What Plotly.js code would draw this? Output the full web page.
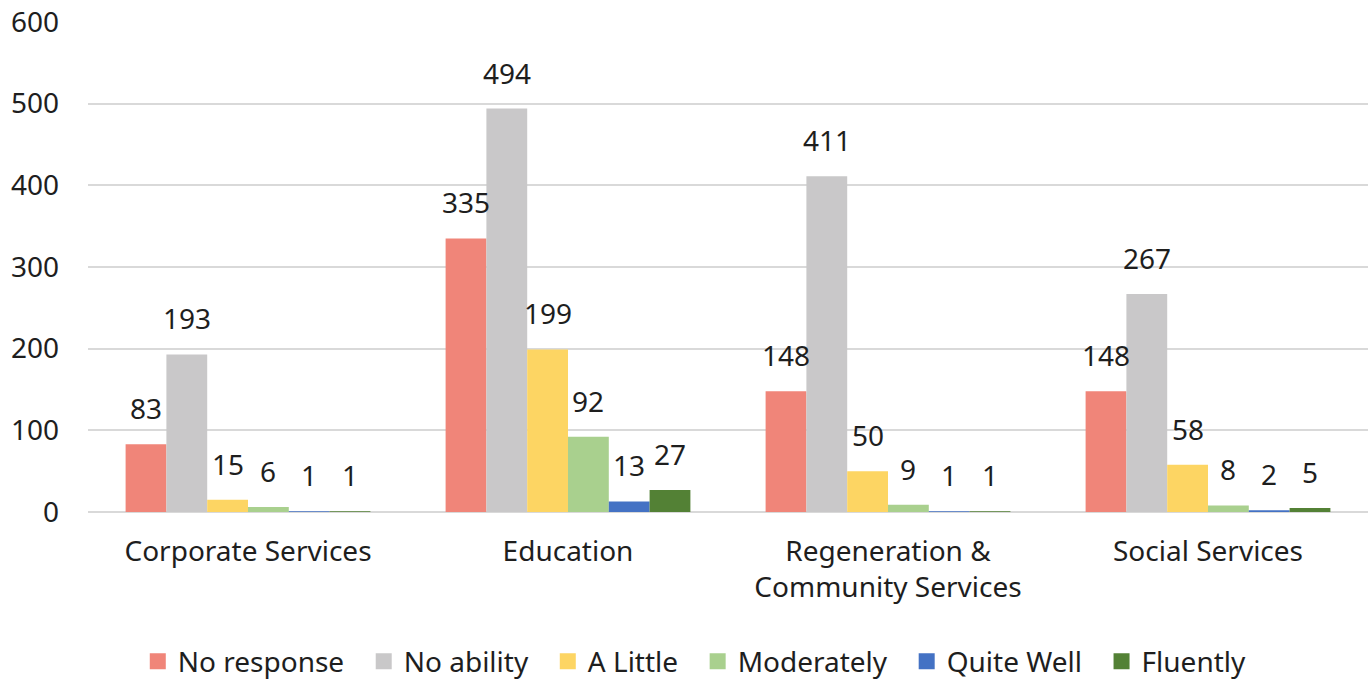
<!DOCTYPE html>
<html>
<head>
<meta charset="utf-8">
<script src="https://cdn.plot.ly/plotly-3.0.1.min.js"></script>
<style>html,body{margin:0;padding:0;background:#fff;}#chart{width:1368px;height:680px;}</style>
</head>
<body>
<div id="chart"></div>
<script>
const categories = ["Corporate Services", "Education", "Regeneration &<br>Community Services", "Social Services"];
const seriesNames = ["No response", "No ability", "A Little", "Moderately", "Quite Well", "Fluently"];
const noResponse = [83, 335, 148, 148];
const noAbility = [193, 494, 411, 267];
const aLittle = [15, 199, 50, 58];
const moderately = [6, 92, 9, 8];
const quiteWell = [1, 13, 1, 2];
const fluently = [1, 27, 1, 5];
const yTicks = [0, 100, 200, 300, 400, 500, 600];

const seriesValues = [noResponse, noAbility, aLittle, moderately, quiteWell, fluently];
const colors = ["#F08579", "#C9C8C9", "#FDD563", "#A9D08E", "#4472C4", "#538135"];
const FONT = "Noto Sans, Open Sans, sans-serif";
const TXT = "#1E1E1E";
const FS = 28;
const BARGAP = 0.235;

const traces = seriesValues.map((vals, i) => ({
  type: "bar",
  name: seriesNames[i],
  x: categories,
  y: vals,
  marker: {color: colors[i]},
  showlegend: false,
  hoverinfo: "x+y+name"
}));

// legend-only entries (bigger square swatches)
seriesNames.forEach((nm, i) => {
  traces.push({
    type: "scatter",
    mode: "markers",
    name: nm + "\u00A0\u00A0",
    x: [categories[0]],
    y: [null],
    marker: {symbol: "square", size: 16, color: colors[i]},
    showlegend: true,
    hoverinfo: "skip"
  });
});

const n = seriesValues.length;
const w = (1 - BARGAP) / n;
const annotations = [];
seriesValues.forEach((vals, i) => {
  vals.forEach((v, c) => {
    annotations.push({
      xref: "x", yref: "y",
      x: c + (i - (n - 1) / 2) * w,
      y: v,
      text: String(v),
      showarrow: false,
      yanchor: "bottom",
      xanchor: "center",
      yshift: 15,
      font: {family: FONT, size: FS, color: TXT}
    });
  });
});

const layout = {
  width: 1368, height: 680,
  margin: {l: 88, r: 0, t: 22, b: 168},
  paper_bgcolor: "#ffffff", plot_bgcolor: "#ffffff",
  barmode: "group",
  bargap: BARGAP,
  bargroupgap: 0,
  font: {family: FONT, size: FS, color: TXT},
  xaxis: {
    type: "category",
    showgrid: false, showline: false, zeroline: false,
    ticks: "",
    automargin: false,
    ticklabelstandoff: 20,
    tickfont: {family: FONT, size: FS, color: TXT}
  },
  yaxis: {
    range: [0, 600],
    tickvals: yTicks,
    ticktext: yTicks.map(String),
    showgrid: true, gridcolor: "#D9D9D9", gridwidth: 2,
    zeroline: true, zerolinecolor: "#D9D9D9", zerolinewidth: 2,
    showline: false, ticks: "",
    automargin: false,
    ticklabelstandoff: 28,
    tickfont: {family: FONT, size: FS, color: TXT}
  },
  showlegend: true,
  legend: {
    orientation: "h",
    xref: "container", yref: "container",
    x: 0.513, xanchor: "center",
    y: 0.027, yanchor: "middle",
    font: {family: FONT, size: FS, color: TXT},
    itemsizing: "trace",
    tracegroupgap: 0,
    bgcolor: "rgba(0,0,0,0)"
  },
  annotations: annotations
};

Plotly.newPlot("chart", traces, layout, {displayModeBar: false, staticPlot: true});
</script>
</body>
</html>
